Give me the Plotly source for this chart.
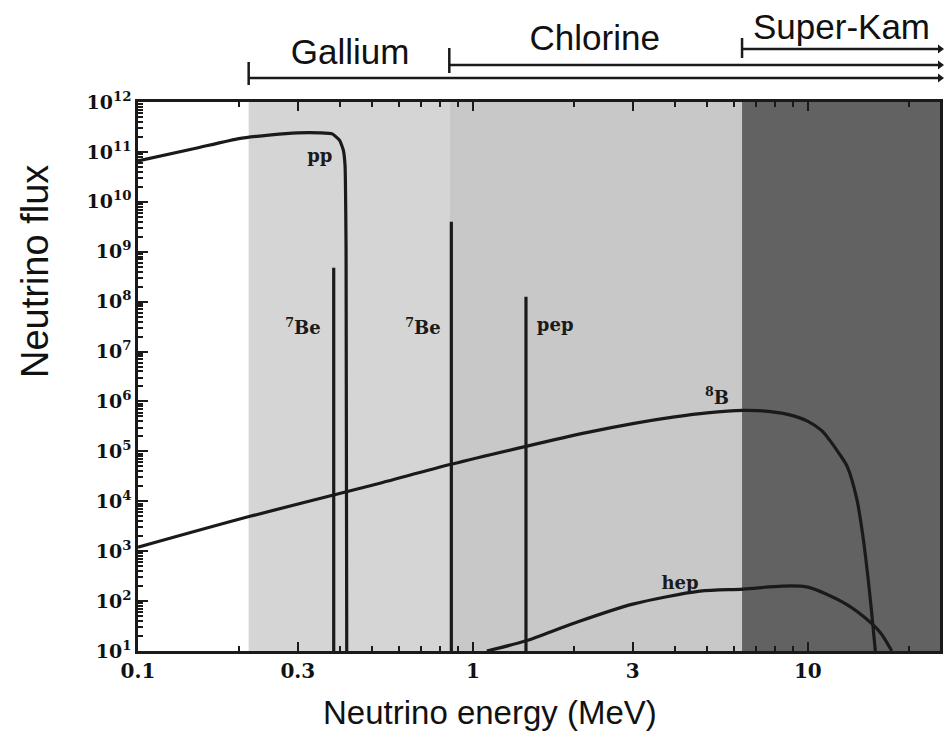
import math
import plotly.graph_objects as go

# ---------------- data ----------------
pp_energy = [0.1, 0.15, 0.2, 0.25, 0.3, 0.35, 0.38, 0.40, 0.41, 0.415, 0.418, 0.42]
pp_flux = [6.6e10, 1.2e11, 1.85e11, 2.2e11, 2.4e11, 2.4e11, 2.3e11, 1.7e11, 1.1e11, 5.5e10, 1.1e9, 10]

b8_energy = [0.1, 0.216, 0.5, 0.86, 1.44, 2.2, 3.0, 4.0, 5.0, 6.4, 7.5, 8.7, 10, 11.0, 11.6, 12.4, 13.1, 14.0, 14.6, 15.1, 15.5, 15.9]
b8_flux = [1.2e3, 5.0e3, 2.1e4, 5.5e4, 1.26e5, 2.4e5, 3.6e5, 4.9e5, 5.9e5, 6.6e5, 6.4e5, 5.5e5, 4.0e5, 2.6e5, 1.7e5, 9.0e4, 5.0e4, 1.1e4, 2.0e3, 316, 60, 10]

hep_energy = [1.1, 1.44, 2.0, 3.0, 4.76, 6.4, 8.4, 10, 12.7, 14.6, 16.4, 17.8]
hep_flux = [10, 16, 36, 87, 158, 174, 200, 190, 95, 50, 24, 10]

line_names = ["be7_low", "be7_high", "pep"]
line_energy = [0.384, 0.862, 1.44]
line_flux = [4.8e8, 4.0e9, 1.26e8]

detectors = ["Gallium", "Chlorine", "Super-Kam"]
detector_threshold = [0.214, 0.85, 6.36]

x_tick_vals = [0.1, 0.3, 1, 3, 10]
x_tick_text = ["0.1", "0.3", "1", "3", "10"]
y_exponents = list(range(1, 13))
y_tick_text = ["10<sup>%d</sup>" % k for k in y_exponents]

# ---------------- axes limits ----------------
XMIN, XMAX = 0.1, 24.8
YMIN, YMAX = 10, 1e12

fig = go.Figure()

# shaded detector-sensitivity regions
region_colors = ["#d5d5d5", "#c8c8c8", "#626262"]
bounds = detector_threshold + [XMAX]
for i in range(len(detectors)):
    a, b = bounds[i], bounds[i + 1]
    fig.add_trace(go.Scatter(
        x=[a, b, b, a, a], y=[YMIN, YMIN, YMAX, YMAX, YMIN],
        fill="toself", fillcolor=region_colors[i], mode="lines",
        line=dict(width=0), hoverinfo="skip", showlegend=False))

INK = "#1a1a1a"
fig.add_trace(go.Scatter(x=pp_energy, y=pp_flux, mode="lines",
                         line=dict(color=INK, width=3.2, shape="spline", smoothing=0.4), showlegend=False))
fig.add_trace(go.Scatter(x=b8_energy, y=b8_flux, mode="lines",
                         line=dict(color=INK, width=3.2, shape="spline", smoothing=0.8), showlegend=False))
fig.add_trace(go.Scatter(x=hep_energy, y=hep_flux, mode="lines",
                         line=dict(color=INK, width=3.2, shape="spline", smoothing=0.8), showlegend=False))

# monoenergetic lines
lx, ly = [], []
for e, f in zip(line_energy, line_flux):
    lx += [e, e, None]
    ly += [YMIN, f, None]
fig.add_trace(go.Scatter(x=lx, y=ly, mode="lines", line=dict(color=INK, width=3.2), showlegend=False))

# in-plot labels
lab_font = dict(family="DejaVu Serif", size=18, color=INK)
labels = [
    (0.349, 7.9e10, "<b>pp</b>"),
    (0.311, 2.75e7, "<b><sup>7</sup>Be</b>"),
    (0.709, 2.75e7, "<b><sup>7</sup>Be</b>"),
    (1.76, 3.2e7, "<b>pep</b>"),
    (5.35, 1.1e6, "<b><sup>8</sup>B</b>"),
    (4.15, 2.2e2, "<b>hep</b>"),
]
fig.add_trace(go.Scatter(x=[l[0] for l in labels], y=[l[1] for l in labels],
                         text=[l[2] for l in labels], mode="text",
                         textfont=lab_font, showlegend=False, hoverinfo="skip"))

# ---------------- top bracket panel (x2/y2, y in panel pixels) ----------------
bracket_y = [78, 65, 49]
bracket_top = [62, 48, 38]
bracket_bot = [85, 73, 58]
label_pos = [(0.43, 55), (2.31, 41), (12.6, 30)]

bx, by = [], []
for t, yh, yt, yb in zip(detector_threshold, bracket_y, bracket_top, bracket_bot):
    bx += [t, t, None, t, XMAX, None]
    by += [yt, yb, None, yh, yh, None]
fig.add_trace(go.Scatter(x=bx, y=by, mode="lines", line=dict(color=INK, width=2.5),
                         xaxis="x2", yaxis="y2", showlegend=False, cliponaxis=False))
fig.add_trace(go.Scatter(x=[XMAX] * 3, y=bracket_y, mode="markers",
                         marker=dict(symbol="triangle-right", size=8, color=INK),
                         xaxis="x2", yaxis="y2", showlegend=False, cliponaxis=False))
fig.add_trace(go.Scatter(x=[p[0] for p in label_pos], y=[p[1] for p in label_pos],
                         text=detectors, mode="text",
                         textfont=dict(family="Liberation Sans, Arial", size=35, color="#111"),
                         xaxis="x2", yaxis="y2", showlegend=False, cliponaxis=False))

minor_x = []
for dec in [0.1, 1, 10]:
    for m in range(2, 10):
        v = m * dec
        if v < XMAX and m != 3:
            minor_x.append(v)
minor_y = [m * 10 ** k for k in range(1, 12) for m in range(2, 10)]

H_PLOT = 651.0
main_domain_top = (H_PLOT - 102) / H_PLOT

fig.update_layout(
    width=948, height=732,
    margin=dict(l=138, r=8, t=0, b=81, autoexpand=False),
    paper_bgcolor="white", plot_bgcolor="white",
    showlegend=False,
    xaxis=dict(type="log", range=[math.log10(XMIN), math.log10(XMAX)],
               domain=[0, 1], anchor="y", automargin=False,
               tickvals=x_tick_vals, ticktext=x_tick_text,
               ticks="inside", ticklen=9, tickwidth=2, tickcolor=INK,
               minor=dict(tickvals=minor_x, ticks="inside", ticklen=5, tickwidth=1.5, tickcolor=INK),
               showline=True, linecolor=INK, linewidth=2.5, mirror="ticks",
               showgrid=False, zeroline=False,
               tickfont=dict(family="DejaVu Serif", size=20, color="#111", weight="bold")),
    yaxis=dict(type="log", range=[1, 12], domain=[0, main_domain_top], anchor="x", automargin=False,
               tickvals=[10 ** k for k in y_exponents], ticktext=y_tick_text,
               ticks="inside", ticklen=10, tickwidth=2, tickcolor=INK,
               minor=dict(tickvals=minor_y, ticks="inside", ticklen=5, tickwidth=1.5, tickcolor=INK),
               showline=True, linecolor=INK, linewidth=2.5, mirror=True,
               showgrid=False, zeroline=False,
               tickfont=dict(family="DejaVu Serif", size=19, color="#111", weight="bold")),
    xaxis2=dict(type="log", range=[math.log10(XMIN), math.log10(XMAX)], matches="x",
                anchor="y2", visible=False, automargin=False),
    yaxis2=dict(range=[102, 0], domain=[main_domain_top, 1], anchor="x2", visible=False, automargin=False),
    annotations=[
        dict(text="Neutrino energy (MeV)", xref="paper", yref="paper",
             x=(490 - 138) / 802, y=(H_PLOT - 712) / H_PLOT, xanchor="center", yanchor="middle",
             showarrow=False, font=dict(family="Liberation Sans, Arial", size=33, color="#111")),
        dict(text="Neutrino flux", xref="paper", yref="paper", textangle=-90,
             x=(35 - 138) / 802, y=(H_PLOT - 272) / H_PLOT, xanchor="center", yanchor="middle",
             showarrow=False, font=dict(family="Liberation Sans, Arial", size=38, color="#111")),
    ],
)

fig.write_html("out.html")
